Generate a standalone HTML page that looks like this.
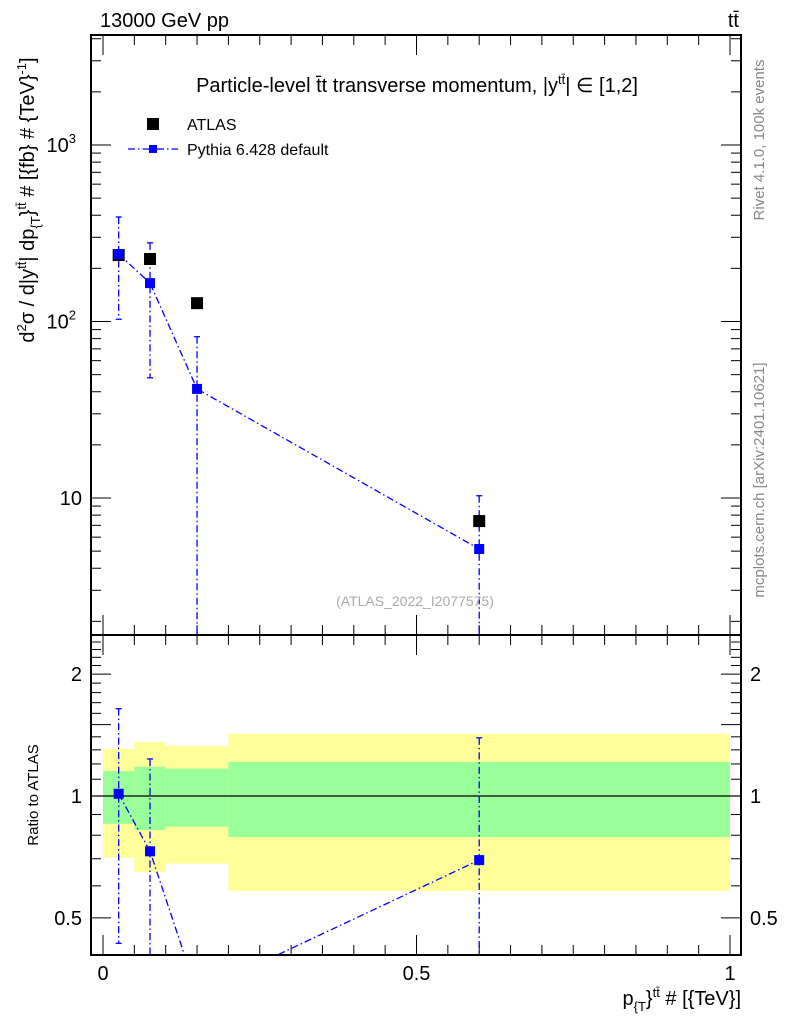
<!DOCTYPE html>
<html><head><meta charset="utf-8"><style>
html,body{margin:0;padding:0;background:#fff;width:786px;height:1024px;overflow:hidden;}
svg{display:block;font-family:"Liberation Sans",sans-serif;}
</style></head><body>
<svg id="chart" width="786" height="1024" viewBox="0 0 786 1024">
<defs>
<clipPath id="clipTop"><rect x="91" y="35" width="650" height="600"/></clipPath>
<clipPath id="clipBot"><rect x="91" y="635" width="650" height="320"/></clipPath>
</defs>
<g id="bands" clip-path="url(#clipBot)"></g>
<g id="axes"></g>
<g id="marks"></g>
<text x="100" y="27" font-size="20">13000 GeV pp</text>
<text x="739" y="27" font-size="20" text-anchor="end">tt̄</text>
<text x="417" y="92" font-size="20" text-anchor="middle">Particle-level t̄t transverse momentum, |y<tspan font-size="13" dy="-8">tt̄</tspan><tspan dy="8">| ∈ [1,2]</tspan></text>
<g>
<rect x="147" y="118" width="12" height="12" fill="#000"/>
<text x="187" y="130" font-size="16">ATLAS</text>
<line x1="128" y1="149" x2="178" y2="149" stroke="#00f" stroke-width="1.3" stroke-dasharray="7,3,1.5,3"/>
<rect x="149" y="145" width="8" height="8" fill="#00f"/>
<text x="187" y="155" font-size="16">Pythia 6.428 default</text>
</g>
<text x="415" y="606" font-size="14" fill="#aaa" text-anchor="middle">(ATLAS_2022_I2077575)</text>
<text transform="translate(764,140) rotate(-90)" font-size="15" fill="#888" text-anchor="middle">Rivet 4.1.0,  100k events</text>
<text transform="translate(764,480) rotate(-90)" font-size="15" fill="#888" text-anchor="middle">mcplots.cern.ch [arXiv:2401.10621]</text>
<text transform="translate(34,200) rotate(-90)" font-size="20" text-anchor="middle">d<tspan font-size="13" dy="-8">2</tspan><tspan dy="8">σ / d|y</tspan><tspan font-size="13" dy="-8">tt̄</tspan><tspan dy="8">| dp</tspan><tspan font-size="13" dy="6">{T</tspan><tspan dy="-6">}</tspan><tspan font-size="13" dy="-8">tt̄</tspan><tspan dy="8"> # [{fb} # {TeV}</tspan><tspan font-size="13" dy="-8">-1</tspan><tspan dy="8">]</tspan></text>
<text transform="translate(38,795) rotate(-90)" font-size="15" text-anchor="middle">Ratio to ATLAS</text>
<text x="741" y="1005" font-size="20" text-anchor="end">p<tspan font-size="13" dy="6">{T</tspan><tspan dy="-6">}</tspan><tspan font-size="13" dy="-8">tt̄</tspan><tspan dy="8"> # [{TeV}]</tspan></text>
</svg>
<script>
const xCenters=[0.025,0.075,0.15,0.6];
const binEdges=[0,0.05,0.1,0.2,1.0];
const atlasVals=[238,226,127,7.4];
const mcVals=[241,165,41.5,5.14];
const mcErrUp=[391,279,82,10.3];
const mcErrDn=[103,48,0.1,0.1];
const bandYellowHi=[1.306,1.359,1.329,1.425];
const bandYellowLo=[0.704,0.649,0.681,0.583];
const bandGreenHi=[1.152,1.181,1.168,1.213];
const bandGreenLo=[0.854,0.824,0.840,0.792];
const xTicks=[0,0.5,1];
const xTickLabels=["0","0.5","1"];
const ratioTicks=[0.5,1,2];
const ratioTickLabels=["0.5","1","2"];

const NS="http://www.w3.org/2000/svg";
const L=91,R=741,T=35,M=635,B=955;
const X=v=>103+v*627;
const Y=v=>145-(Math.log10(v)-3)*176.5;
const RY=v=>796-Math.log10(v)*405;
const RMIN=0.405;
function mk(tag,attrs,parent){const e=document.createElementNS(NS,tag);for(const k in attrs)e.setAttribute(k,attrs[k]);parent.appendChild(e);return e;}
const axes=document.getElementById('axes'),marks=document.getElementById('marks'),bands=document.getElementById('bands');

for(let i=0;i<4;i++){
 const x0=X(binEdges[i]),x1=X(binEdges[i+1]);
 const y=mk('rect',{x:x0,y:RY(bandYellowHi[i]),width:x1-x0,height:RY(bandYellowLo[i])-RY(bandYellowHi[i]),fill:'#ffff99'},bands);
 
 
 const g=mk('rect',{x:x0,y:RY(bandGreenHi[i]),width:x1-x0,height:RY(bandGreenLo[i])-RY(bandGreenHi[i]),fill:'#99ff99'},bands);
 
 
}
const f1=mk('rect',{x:L,y:T,width:R-L,height:M-T,fill:'none',stroke:'#000','stroke-width':2},axes);


const f2=mk('rect',{x:L,y:M,width:R-L,height:B-M,fill:'none',stroke:'#000','stroke-width':2},axes);


const one=mk('line',{x1:L,x2:R,y1:RY(1),y2:RY(1),stroke:'#000','stroke-width':1.2},axes);


for(let k=0;k<=20;k++){
 const v=k*0.05,x=X(v),maj=k%10===0,len=maj?20:10;
 [[T,1],[M,-1],[M,1],[B,-1]].forEach(([y0,d])=>{mk('line',{x1:x,x2:x,y1:y0,y2:y0+d*len,stroke:'#000','stroke-width':1},axes);});
}
xTicks.forEach((v,i)=>{const t=mk('text',{x:X(v),y:980,'font-size':20,'text-anchor':'middle'},axes);t.textContent=xTickLabels[i];
 
 });
for(let d=0;d<=3;d++)for(let m=1;m<=9;m++){
 const v=m*Math.pow(10,d),y=Y(v);if(y<T||y>M)continue;
 const len=m===1?20:10;
 mk('line',{x1:L,x2:L+len,y1:y,y2:y,stroke:'#000'},axes);
 mk('line',{x1:R,x2:R-len,y1:y,y2:y,stroke:'#000'},axes);
}
[[10,"10",""],[100,"10","2"],[1000,"10","3"]].forEach(([v,b,e])=>{
 const t=mk('text',{x:e?76:82,y:Y(v)+7,'font-size':20,'text-anchor':'end'},axes);
 t.textContent=b;
 if(e){const s=mk('tspan',{'font-size':13,dy:-9},t);s.textContent=e;}
 
 
});
for(let k=4;k<=25;k++){const v=k/10,y=RY(v);if(y<M||y>B)continue;
 const len=(k%5===0)?20:10;
 mk('line',{x1:L,x2:L+len,y1:y,y2:y,stroke:'#000'},axes);
 mk('line',{x1:R,x2:R-len,y1:y,y2:y,stroke:'#000'},axes);}
ratioTicks.forEach((v,i)=>{
 const t=mk('text',{x:82,y:RY(v)+7,'font-size':20,'text-anchor':'end'},axes);t.textContent=ratioTickLabels[i];
 
 
 const t2=mk('text',{x:750,y:RY(v)+7,'font-size':20},axes);t2.textContent=ratioTickLabels[i];
 
 
});
const gTop=mk('g',{'clip-path':'url(#clipTop)'},marks);
const gBot=mk('g',{'clip-path':'url(#clipBot)'},marks);
const dash={'stroke':'#00f','stroke-width':1.3,'stroke-dasharray':'7,3,1.5,3',fill:'none'};
let pts=xCenters.map((x,i)=>X(x)+','+Y(mcVals[i])).join(' ');
const pl=mk('polyline',Object.assign({points:pts},dash),gTop);


xCenters.forEach((x,i)=>{
 const cx=X(x);
 const e=mk('line',Object.assign({x1:cx,x2:cx,y1:Y(mcErrUp[i]),y2:Y(mcErrDn[i])},dash),gTop);
 
 
 mk('line',{x1:cx-3,x2:cx+3,y1:Y(mcErrUp[i]),y2:Y(mcErrUp[i]),stroke:'#00f','stroke-width':1.3},gTop);
 mk('line',{x1:cx-3,x2:cx+3,y1:Y(mcErrDn[i]),y2:Y(mcErrDn[i]),stroke:'#00f','stroke-width':1.3},gTop);
 const a=mk('rect',{x:cx-6,y:Y(atlasVals[i])-6,width:12,height:12,fill:'#000'},gTop);
 
 
 const p=mk('rect',{x:cx-5,y:Y(mcVals[i])-5,width:10,height:10,fill:'#00f'},gTop);
 
 
});
const rat=mcVals.map((v,i)=>v/atlasVals[i]);
pts=xCenters.map((x,i)=>X(x)+','+RY(rat[i])).join(' ');
const rl=mk('polyline',Object.assign({points:pts},dash),gBot);


xCenters.forEach((x,i)=>{
 if(rat[i]<RMIN) return;
 const cx=X(x),up=mcErrUp[i]/atlasVals[i],dn=mcErrDn[i]/atlasVals[i];
 const e=mk('line',Object.assign({x1:cx,x2:cx,y1:RY(up),y2:RY(dn)},dash),gBot);
 
 
 mk('line',{x1:cx-3,x2:cx+3,y1:RY(up),y2:RY(up),stroke:'#00f','stroke-width':1.3},gBot);
 mk('line',{x1:cx-3,x2:cx+3,y1:RY(dn),y2:RY(dn),stroke:'#00f','stroke-width':1.3},gBot);
 const p=mk('rect',{x:cx-5,y:RY(rat[i])-5,width:10,height:10,fill:'#00f'},gBot);
 
 
});
</script>
</body></html>
